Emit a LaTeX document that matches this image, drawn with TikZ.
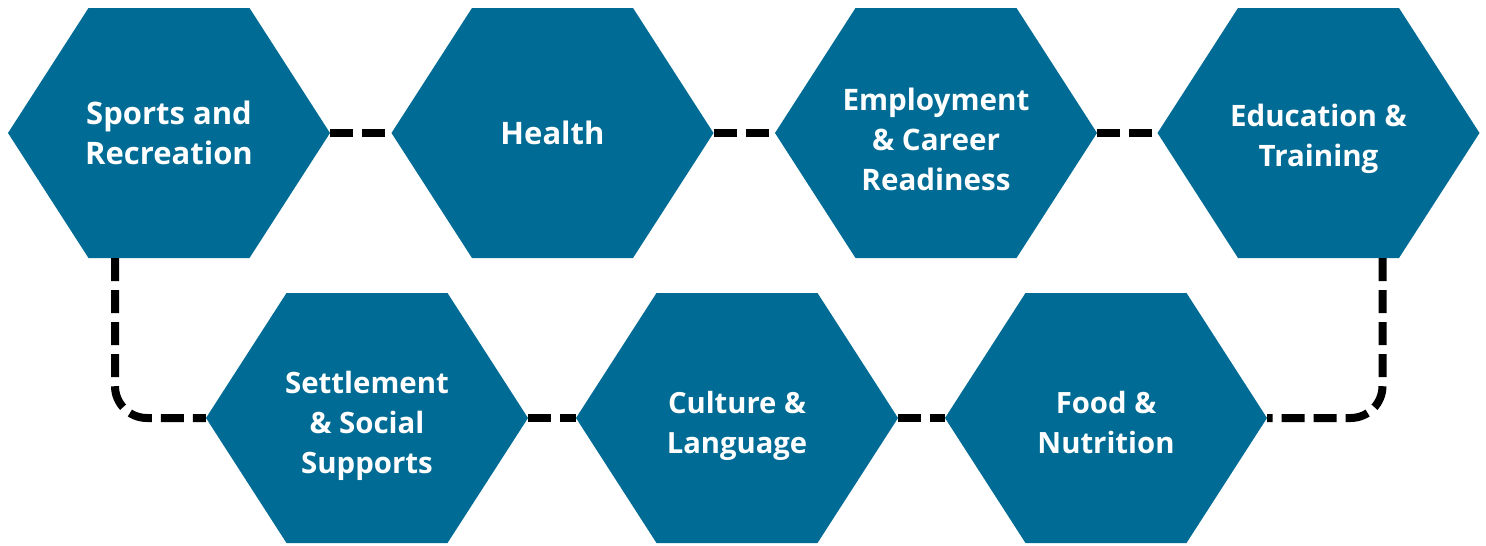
\documentclass[tikz,border=0pt]{standalone}
\usepackage{fontspec}
\setmainfont{Open Sans}
\usepackage{tikz}
\usepackage{xcolor}
\usetikzlibrary{
    calc,
    positioning
}
\definecolor{hexblue}{RGB}{0,107,148}
\tikzset{
    hexcell/.style n args={3}{minimum width=322, minimum height=250, inner sep=0,
        label={[hextext, font=\bfseries\fontsize{#3}{40}\selectfont, yshift=-#2]center:#1},
        path picture={
            \fill[hexblue] (path picture bounding box.west)
                -- ($(path picture bounding box.north west)!.25!(path picture bounding box.north east)$)
                -- ($(path picture bounding box.north west)!.75!(path picture bounding box.north east)$)
                -- (path picture bounding box.east)
                -- ($(path picture bounding box.south west)!.75!(path picture bounding box.south east)$)
                -- ($(path picture bounding box.south west)!.25!(path picture bounding box.south east)$)
                -- cycle;
        }},
    hextext/.style={align=center, text=white, inner sep=0},
    link/.style={draw=black, line width=8, dash pattern=on 23 off 9}
}

\begin{document}
\begin{tikzpicture}[x=1pt, y=-1pt]
                                \useasboundingbox (0, 0) rectangle (1486, 546);
                                \node[hexcell={Sports and\\Recreation}{0}{31}] (sports) at (169, 133) {};
                                \node[hexcell={Health}{0}{31}] (health) at (552.5, 133) {};
                                \node[hexcell={Employment\\\& Career\\Readiness}{6}{29.6}] (employ) at (936, 133) {};
                                \node[hexcell={Education \&\\Training}{6}{29.5}] (educ) at (1318.5, 133) {};
                                \node[hexcell={Settlement\\\& Social\\Supports}{8}{29.4}] (settle) at (367, 418) {};
                                \node[hexcell={Culture \&\\Language}{8}{29.2}] (culture) at (737, 418) {};
                                \node[hexcell={Food \&\\Nutrition}{5}{29.3}] (food) at (1106, 418) {};
                                \draw[link] (sports.east) -- (health.west);
                                \draw[link] (health.east) -- (employ.west);
                                \draw[link] (employ.east) -- (educ.west);
                                \draw[link] (settle.east) -- (culture.west);
                                \draw[link] (culture.east) -- (food.west);
                                \draw[link, rounded corners=32] ([xshift=-54]sports.south) |- (settle.west);
                                \draw[link, rounded corners=32] ([xshift=64]educ.south) |- (food.east);
                            \end{tikzpicture}
\end{document}
